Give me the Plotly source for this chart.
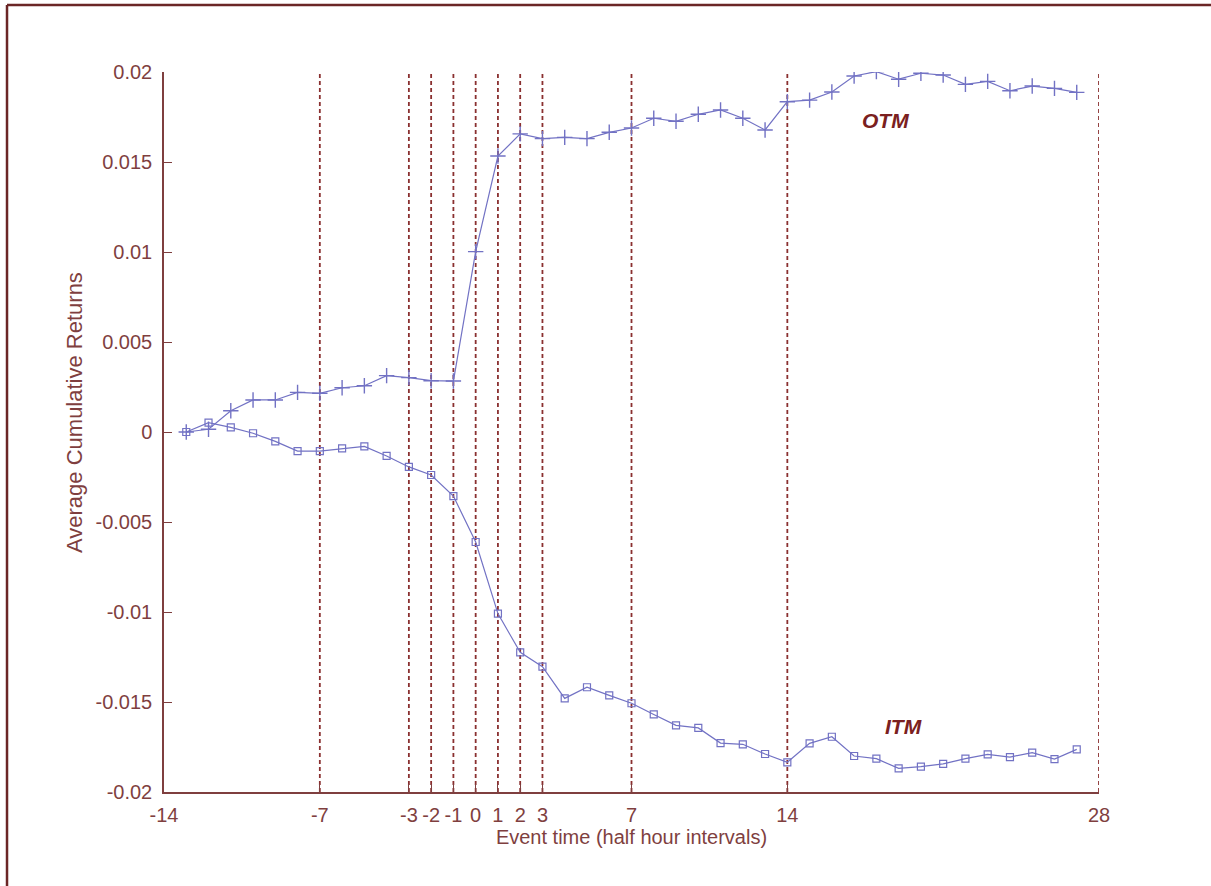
import plotly.graph_objects as go

event_time = list(range(-13, 28))
otm = [0.0, 0.00015, 0.00118, 0.00178, 0.00178, 0.0022, 0.00215, 0.00246, 0.00257, 0.00313,
       0.00302, 0.00285, 0.00283, 0.01002, 0.01533, 0.01656, 0.0163, 0.01637, 0.0163, 0.01665,
       0.01689, 0.01743, 0.01726, 0.01765, 0.01789, 0.01743, 0.01678, 0.01835, 0.01844, 0.01889,
       0.01978, 0.02002, 0.0196, 0.01993, 0.01983, 0.01931, 0.01948, 0.01896, 0.01922, 0.01909,
       0.01887]
itm = [0.0, 0.00052, 0.00026, -0.00007, -0.00052, -0.00106, -0.00106, -0.00091, -0.0008, -0.00133,
       -0.00194, -0.00239, -0.00356, -0.00611, -0.01009, -0.01224, -0.01304, -0.0148, -0.01418, -0.01463,
       -0.01507, -0.01569, -0.0163, -0.01644, -0.01728, -0.01735, -0.01789, -0.01835, -0.0173, -0.01693,
       -0.018, -0.01815, -0.01869, -0.01859, -0.01844, -0.01815, -0.01791, -0.01806, -0.01781, -0.01817,
       -0.01763]
event_lines = [-7, -3, -2, -1, 0, 1, 2, 3, 7, 14, 28]
x_ticks = [-14, -7, -3, -2, -1, 0, 1, 2, 3, 7, 14, 28]
y_ticks = [-0.02, -0.015, -0.01, -0.005, 0, 0.005, 0.01, 0.015, 0.02]
y_tick_text = ["-0.02", "-0.015", "-0.01", "-0.005", "0", "0.005", "0.01", "0.015", "0.02"]
labels = [("OTM", 18.4, 0.01733), ("ITM", 19.2, -0.01637)]

axis_col = "#7f3f3f"
dash_col = "#8a3030"
line_col = "#7272c4"
font_fam = "Liberation Sans, Arial, sans-serif"

fig = go.Figure()
fig.add_trace(go.Scatter(x=event_time, y=otm, mode="lines+markers",
                         line=dict(color=line_col, width=1.2),
                         marker=dict(symbol="cross-thin-open", size=11,
                                     line=dict(color=line_col, width=1.4)),
                         name="OTM", showlegend=False))
fig.add_trace(go.Scatter(x=event_time, y=itm, mode="lines+markers",
                         line=dict(color=line_col, width=1.2),
                         marker=dict(symbol="square-open", size=7, color=line_col,
                                     line=dict(color=line_col, width=1.2)),
                         name="ITM", showlegend=False))

for xv in event_lines:
    fig.add_shape(type="line", xref="x", yref="y", x0=xv, x1=xv, y0=-0.02, y1=0.02,
                  line=dict(color=dash_col, width=1.8, dash="4px,3px"), layer="below")

for txt, xv, yv in labels:
    fig.add_annotation(x=xv, y=yv, text="<b><i>" + txt + "</i></b>", showarrow=False,
                       font=dict(family=font_fam, size=21, color="#7a2020"))

# y-axis title placed as rotated text (slightly above the plot centre, as in the original)
fig.add_annotation(xref="paper", yref="paper", x=-0.0952, y=0.5278, textangle=-90,
                   xanchor="center", yanchor="middle",
                   text="Average Cumulative Returns", showarrow=False,
                   font=dict(family=font_fam, size=22, color=axis_col))

# outer frame (left and top edges)
fig.add_shape(type="line", xref="paper", yref="paper", x0=-0.1679, x1=-0.1679, y0=-0.2, y1=1.093,
              line=dict(color="#6b2626", width=2.5))
fig.add_shape(type="line", xref="paper", yref="paper", x0=-0.1679, x1=1.2, y0=1.093, y1=1.093,
              line=dict(color="#6b2626", width=2.5))

fig.update_layout(
    width=1211, height=886,
    margin=dict(l=164, r=112, t=72, b=94),
    paper_bgcolor="white", plot_bgcolor="white",
    font=dict(family=font_fam, size=20, color=axis_col),
    xaxis=dict(range=[-14, 28], tickmode="array", tickvals=x_ticks,
               ticktext=[str(v) for v in x_ticks],
               showline=True, linecolor=axis_col, linewidth=1.5,
               ticks="inside", ticklen=8, tickcolor=axis_col, tickwidth=1.3,
               ticklabelstandoff=4,
               showgrid=False, zeroline=False,
               title=dict(text="Event time (half hour intervals)", standoff=4,
                          font=dict(size=20, color=axis_col))),
    yaxis=dict(range=[-0.02, 0.02], tickmode="array", tickvals=y_ticks, ticktext=y_tick_text,
               showline=True, linecolor=axis_col, linewidth=1.5,
               ticks="inside", ticklen=8, tickcolor=axis_col, tickwidth=1.3,
               ticklabelstandoff=6,
               showgrid=False, zeroline=False),
)

fig.write_html("out.html", config={"displayModeBar": False},
               post_script="document.body.style.margin='0';document.body.style.overflow='hidden';")
